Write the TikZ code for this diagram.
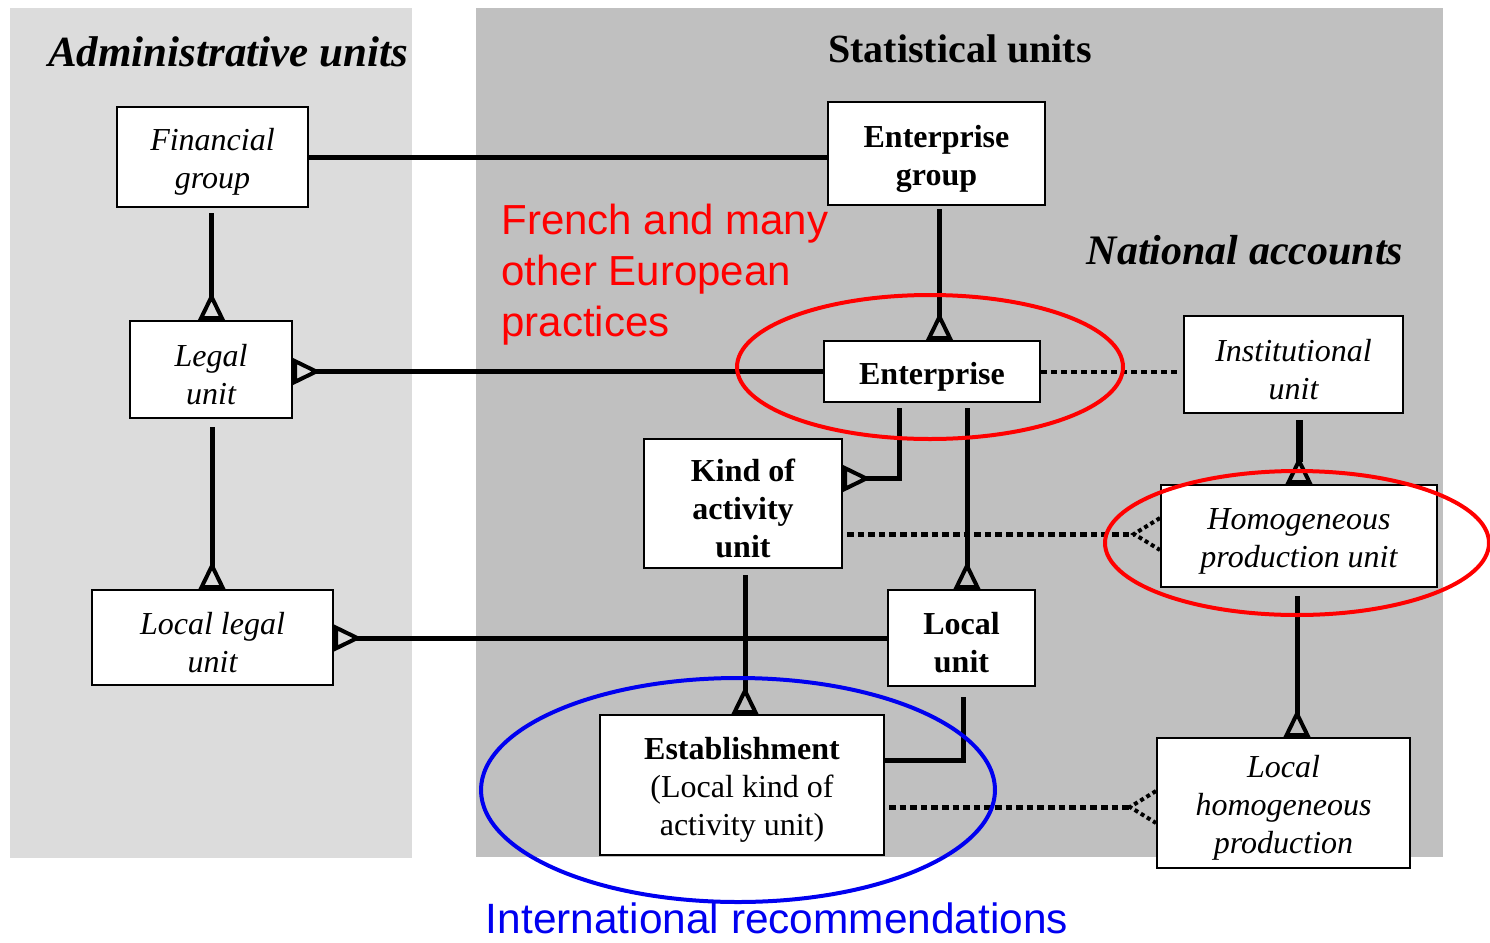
\documentclass[tikz,border=0pt]{standalone}
\usepackage{fontspec}
\setmainfont{Liberation Serif}
\newfontfamily\arialf{Liberation Sans}
\usetikzlibrary{arrows.meta,calc}
\definecolor{adminbg}{RGB}{220,220,220}
\definecolor{statbg}{RGB}{192,192,192}
\definecolor{myred}{RGB}{255,0,0}
\definecolor{myblue}{RGB}{0,0,240}
\tikzset{
  box/.style={draw=black, line width=1pt, fill=white, align=center, inner sep=0pt,
    font=\fontsize{16}{19}\selectfont},
  ibox/.style={box, font=\fontsize{16}{19}\selectfont\itshape},
  bbox/.style={box, font=\fontsize{16}{19}\selectfont\bfseries},
  label/.style={draw=none, fill=none, yshift=-2.5pt},
  conn/.style={line width=2.5pt},
  tri/.style={-{Triangle[open,reversed,length=14pt,width=13pt,line width=2pt]}},
  dotline/.style={line width=2.5pt, dash pattern=on 3.3pt off 2pt},
  dottri/.style={line width=2pt, dash pattern=on 2pt off 1.6pt},
  oval/.style={line width=2pt},
  title/.style={font=\fontsize{20}{24}\selectfont\bfseries},
}
\begin{document}
\begin{tikzpicture}[x=0.5pt,y=-0.5pt]
\useasboundingbox (0,0) rectangle (1490,943);
% panels
\fill[adminbg] (10,8) rectangle (412,858);
\fill[statbg] (476,8) rectangle (1443,857);
% titles
\node[title, font=\fontsize{21.5}{26}\selectfont\bfseries\itshape] (tadm) at (228,52) {Administrative units};
\node[title] (tstat) at (960,49) {Statistical units};
\node[title, font=\fontsize{21}{25}\selectfont\bfseries\itshape] (tna) at (1245,250) {National accounts};
% boxes (sizes in pt = half the pixel size)
\path
  (212.5,157) node[ibox, minimum width=95.5pt, minimum height=50pt] (fin) {}
  (936.5,153.5) node[bbox, minimum width=108.5pt, minimum height=51.5pt] (eg) {}
  (211,369.5) node[ibox, minimum width=81pt, minimum height=48.5pt] (legal) {}
  (932,371.5) node[bbox, minimum width=108pt, minimum height=30.5pt] (ent) {}
  (1293.5,364.5) node[ibox, minimum width=109.5pt, minimum height=48.5pt] (inst) {}
  (743,503.5) node[bbox, minimum width=99pt, minimum height=64.5pt] (kau) {}
  (1299,536) node[ibox, minimum width=138pt, minimum height=51pt] (hpu) {}
  (212.5,637.5) node[ibox, minimum width=120.5pt, minimum height=47.5pt] (llu) {}
  (961.5,638) node[bbox, minimum width=73.5pt, minimum height=48pt] (lu) {}
  (742,785) node[box, minimum width=142pt, minimum height=70pt] (est) {}
  (1283.5,803) node[ibox, minimum width=126.5pt, minimum height=65pt] (lhp) {};
% connectors
\draw[conn] (fin.east) -- (fin.east -| eg.west);
\draw[conn,tri] ($(fin.south)+(-1,5)$) -- ($(fin.south |- legal.north)+(-1,0)$);
\draw[conn,tri] ($(legal.south)+(1,8)$) -- ($(legal.south |- llu.north)+(1,0)$);
\draw[conn,tri] ($(eg.south)+(3,3)$) -- ($(eg.south |- ent.north)+(3,0)$);
\draw[conn,tri] (ent.west) -- (ent.west -| legal.east);
\draw[line width=2pt, dash pattern=on 3pt off 2pt] (ent.east) -- ($(ent.east -| inst.west)+(-4,0)$);
\draw[line width=3.5pt,tri] ($(hpu.north |- inst.south)+(0,6)$) -- (hpu.north);
\coordinate (e1) at ($(ent.south west)+(76,5)$);
\coordinate (e2) at ($(ent.south west)+(144,5)$);
\draw[conn,tri] (e1) |- ($(kau.east)+(0,-25)$);
\draw[conn,tri] (e2) -- (e2 |- lu.north);
\coordinate (k1) at ($(kau.east)+(4,30.5)$);
\coordinate (h1) at ($(k1 -| hpu.west)+(-26,0)$);
\draw[dotline] (k1) -- (h1);
\draw[dottri] ($(h1 -| hpu.west)+(0,-16)$) -- (h1) -- ($(h1 -| hpu.west)+(0,16)$);
\draw[conn,tri] (lu.west) -- (lu.west -| llu.east);
\draw[conn,tri] ($(kau.south)+(2,6)$) -- ($(kau.south |- est.north)+(2,0)$);
\draw[conn] ($(lu.south)+(2,10)$) |- ($(est.east)+(0,-25)$);
\coordinate (s1) at ($(est.east)+(4,22)$);
\coordinate (l1) at ($(s1 -| lhp.west)+(-26,0)$);
\draw[dotline] (s1) -- (l1);
\draw[dottri] ($(l1 -| lhp.west)+(0,-16)$) -- (l1) -- ($(l1 -| lhp.west)+(0,16)$);
\draw[conn,tri] ($(hpu.south)+(-2,8)$) -- ($(hpu.south |- lhp.north)+(-2,0)$);
% box texts
\node[ibox, label] at (fin) {Financial\\group};
\node[bbox, label] at (eg) {Enterprise\\group};
\node[ibox, label] at (legal) {Legal\\unit};
\node[bbox, label] at (ent) {Enterprise};
\node[ibox, label] at (inst) {Institutional\\unit};
\node[bbox, label] at (kau) {Kind of\\activity\\unit};
\node[ibox, label] at (hpu) {Homogeneous\\production unit};
\node[ibox, label] at (llu) {Local legal\\unit};
\node[bbox, label] at (lu) {Local\\unit};
\node[box, label] at (est) {\textbf{Establishment}\\(Local kind of\\activity unit)};
\node[ibox, label] at (lhp) {Local\\homogeneous\\production};
% red / blue annotations
\node[anchor=north west, align=left, text=myred, font=\fontsize{21}{25.5}\selectfont\arialf, inner sep=0pt] (fr) at (501,204) {French and many\\other European\\practices};
\draw[oval, myred] (930,367) ellipse [x radius=193, y radius=72];
\draw[oval, myred] (1297,543) ellipse [x radius=192, y radius=72];
\draw[oval, myblue] (738,790) ellipse [x radius=257, y radius=112];
\node[text=myblue, font=\fontsize{21.2}{25}\selectfont\arialf, inner sep=0pt] (intl) at (777,918) {International recommendations};
\end{tikzpicture}
\end{document}
